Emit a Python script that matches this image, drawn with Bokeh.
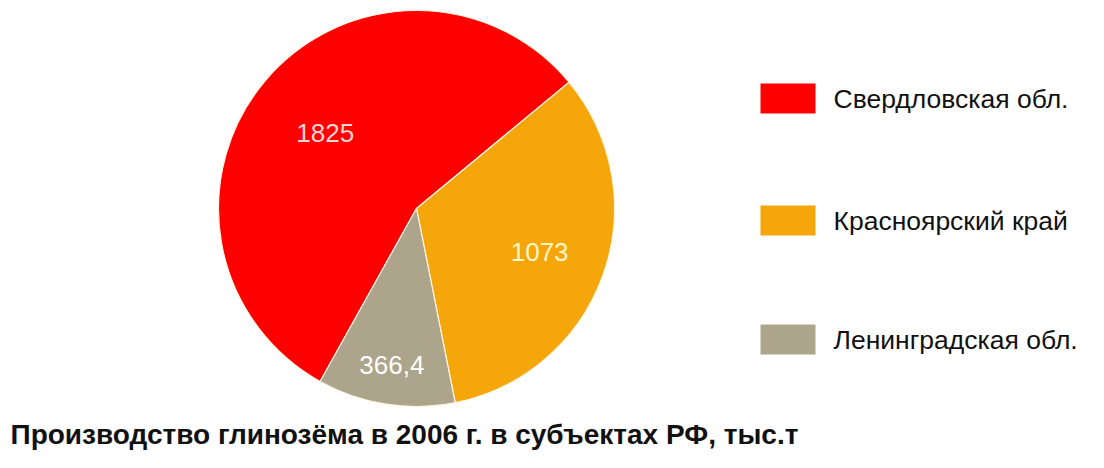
import math
from bokeh.plotting import figure
from bokeh.models import Range1d, ColumnDataSource
from bokeh.core.properties import value
from bokeh.embed import file_html
from bokeh.resources import INLINE

# ---- data ----
regions = ["Свердловская обл.", "Красноярский край", "Ленинградская обл."]
values = [1825, 1073, 366.4]
value_labels = ["1825", "1073", "366,4"]
colors = ["#FE0000", "#F4A60A", "#ADA48C"]
label_colors = ["#FAD6D2", "#FFF6C8", "#FFFFFF"]
title_text = "Производство глинозёма в 2006 г. в субъектах РФ, тыс.т"

W, H = 1088, 452
p = figure(width=W, height=H, output_backend="svg", toolbar_location=None,
           x_range=Range1d(0, W), y_range=Range1d(468 - H, 468),
           min_border=0, outline_line_color=None)
p.axis.visible = False
p.grid.visible = False
p.background_fill_color = "white"

def Y(y):
    return 468 - y

cx, cy, r = 416, 208, 198
total = sum(values)
start0 = 39.6 + values[0] / total * 360
starts, ends, mids = [], [], []
acc = 0.0
for v in values:
    a0 = start0 - acc / total * 360
    acc += v
    a1 = start0 - acc / total * 360
    starts.append(math.radians(a0))
    ends.append(math.radians(a1))
    mids.append(math.radians((a0 + a1) / 2))

src = ColumnDataSource(dict(start=starts, end=ends, color=colors))
p.wedge(x=cx, y=Y(cy), radius=r, start_angle="start", end_angle="end",
        direction="clock", fill_color="color", line_color="#FFF4E0",
        line_width=1.2, source=src)

# value labels inside slices
lab_r = [0.6, 0.66, 0.8]
lx = [cx + r * f * math.cos(m) for f, m in zip(lab_r, mids)]
ly = [Y(cy) + r * f * math.sin(m) for f, m in zip(lab_r, mids)]
lsrc = ColumnDataSource(dict(x=lx, y=ly, t=value_labels, c=label_colors))
p.text(x="x", y="y", text="t", text_color="c", source=lsrc,
       text_font=value("Liberation Sans"), text_font_size="26px",
       text_align="center", text_baseline="middle")

# legend
sw_y = [98, 220, 339]
lg = ColumnDataSource(dict(x=[787.5] * 3, y=[Y(v) for v in sw_y], c=colors,
                           tx=[833] * 3, t=regions))
p.rect(x="x", y="y", width=55, height=30, fill_color="c", line_color=None,
       source=lg)
p.text(x="tx", y="y", text="t", source=lg, text_color="#111111",
       text_font=value("Liberation Sans"), text_font_size="26.5px",
       text_align="left", text_baseline="middle")

# title
p.text(x=[10], y=[Y(434)], text=[title_text], text_color="#111111",
       text_font=value("Liberation Sans"), text_font_size="28px",
       text_font_style="bold", text_align="left", text_baseline="alphabetic")

open("out.html", "w").write(file_html(p, INLINE))
